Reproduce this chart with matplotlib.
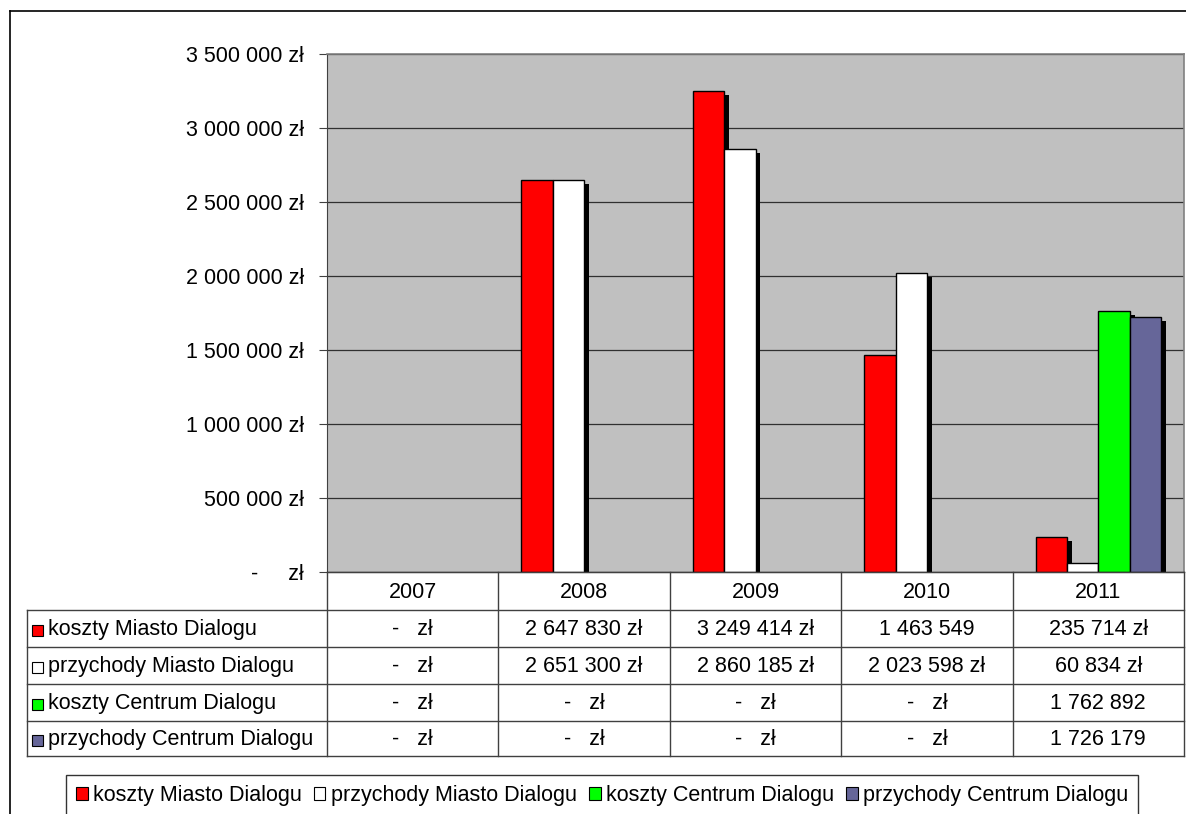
import matplotlib
matplotlib.use("Agg")
import matplotlib.pyplot as plt
import matplotlib.patheffects as pe
from matplotlib.patches import Rectangle
import numpy as np

plt.rcParams['font.family'] = ['Liberation Sans', 'DejaVu Sans']

# data
years = ['2007', '2008', '2009', '2010', '2011']
series = ['koszty Miasto Dialogu', 'przychody Miasto Dialogu',
          'koszty Centrum Dialogu', 'przychody Centrum Dialogu']
koszty_miasto = [0, 2647830, 3249414, 1463549, 235714]
przychody_miasto = [0, 2651300, 2860185, 2023598, 60834]
koszty_centrum = [0, 0, 0, 0, 1762892]
przychody_centrum = [0, 0, 0, 0, 1726179]
values = [koszty_miasto, przychody_miasto, koszty_centrum, przychody_centrum]
colors = ['#FF0000', '#FFFFFF', '#00FF00', '#666699']
# cells shown in the source table without the currency suffix
plain_cells = [(0, 3), (2, 4), (3, 4)]


def pln(v, unit=True):
    if v == 0:
        return '-   zł'
    s = f'{v:,}'.replace(',', ' ')
    return s + ' zł' if unit else s


W, H = 1186, 814
FS = 15.5
fig = plt.figure(figsize=(W / 100, H / 100), dpi=100)

# plot area (pixel layout of the original)
L, R, T, B = 327, 1184, 54, 572
ax = fig.add_axes([L / W, 1 - B / H, (R - L) / W, (B - T) / H])
ax.set_facecolor('#C0C0C0')
ax.set_axisbelow(True)
ax.yaxis.grid(True, color='#303030', lw=0.9)

x = np.arange(len(years))
bw = 0.183
shadow = [pe.SimplePatchShadow(offset=(3.5, -3), shadow_rgbFace='black', alpha=1.0), pe.Normal()]
for i, (vals, col) in enumerate(zip(values, colors)):
    vals = np.array(vals)
    nz = vals > 0  # empty years get no bar at all
    ax.bar(x[nz] + (i - 1.5) * bw, vals[nz], width=bw, color=col, edgecolor='black',
           lw=1, path_effects=shadow, zorder=3)

ax.set_xlim(-0.5, len(years) - 0.5)
ax.set_ylim(0, 3500000)
yt = np.arange(0, 3500001, 500000)
ax.set_yticks(yt)
ax.set_yticklabels(['-     zł' if v == 0 else pln(int(v)) for v in yt], fontsize=FS)
ax.tick_params(axis='y', length=5.5, width=0.8, pad=11, color='#404040')
ax.set_xticks([])
for s in ['top', 'right']:
    ax.spines[s].set_color('#808080')
    ax.spines[s].set_linewidth(1.2)
ax.spines['left'].set_color('#404040')
ax.spines['bottom'].set_color('black')

# overlay in pixel coordinates for table, border
ov = fig.add_axes([0, 0, 1, 1], zorder=5)
ov.set_xlim(0, W)
ov.set_ylim(H, 0)
ov.axis('off')
ov.patch.set_alpha(0)

lc = '#404040'
# outer chart border
ov.plot([10, 10], [11, H], color='black', lw=1.2, clip_on=False)
ov.plot([10, W], [11, 11], color='black', lw=1.2, clip_on=False)

row_y = [572, 610, 647, 684, 721, 756]
col_x = np.linspace(L, R, len(years) + 1)
tab_left = 27
for k, yy in enumerate(row_y):
    x0 = L if k == 0 else tab_left
    ov.plot([x0, R], [yy, yy], color=lc, lw=1)
for xx in col_x:
    ov.plot([xx, xx], [row_y[0], row_y[-1]], color=lc, lw=1)
ov.plot([tab_left, tab_left], [row_y[1], row_y[-1]], color=lc, lw=1)

for j, yr in enumerate(years):
    ov.text((col_x[j] + col_x[j + 1]) / 2, (row_y[0] + row_y[1]) / 2 + 1, yr,
            ha='center', va='center', fontsize=FS)

for i, (name, vals, col) in enumerate(zip(series, values, colors)):
    yc = (row_y[i + 1] + row_y[i + 2]) / 2 + 1
    ov.add_patch(Rectangle((32, yc - 5), 11, 11, facecolor=col, edgecolor='black', lw=0.8))
    ov.text(48, yc, name, ha='left', va='center', fontsize=FS)
    for j, v in enumerate(vals):
        ov.text((col_x[j] + col_x[j + 1]) / 2, yc, pln(v, (i, j) not in plain_cells),
                ha='center', va='center', fontsize=FS)

handles = [Rectangle((0, 0), 1, 1, facecolor=c, edgecolor='black', lw=0.8) for c in colors]
leg = fig.legend(handles, series, loc='upper left', bbox_to_anchor=(66 / W, 1 - 775 / H),
                 ncol=4, fontsize=FS, frameon=True, fancybox=False, handlelength=0.55,
                 handleheight=0.55, handletextpad=0.25, columnspacing=0.55,
                 borderpad=0.45, borderaxespad=0)
leg.get_frame().set_edgecolor('black')
leg.get_frame().set_linewidth(1)

fig.savefig('out.png', dpi=100)
